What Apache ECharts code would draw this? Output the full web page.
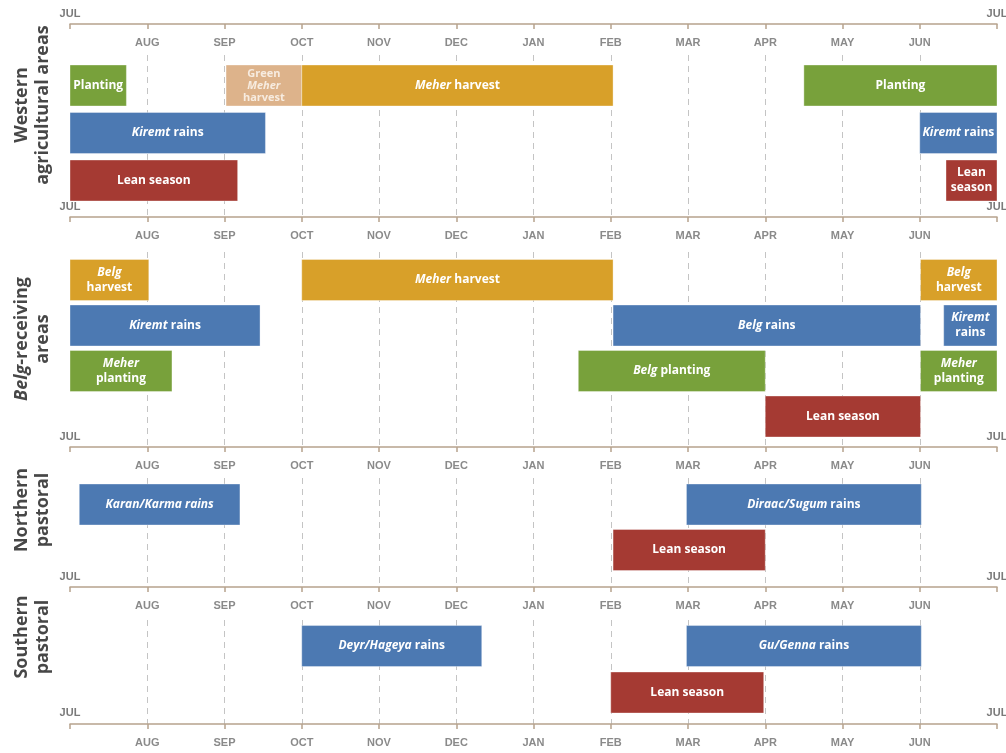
<!DOCTYPE html>
<html>
<head>
<meta charset="utf-8">
<script src="https://cdn.jsdelivr.net/npm/echarts@6/dist/echarts.min.js"></script>
<style>
html,body{margin:0;padding:0;background:#fff;}
#chart{width:1006px;height:753px;}
</style>
</head>
<body>
<div id="chart"></div>
<script>
// Month tick labels (0 = start of July, 12 = end of June)
const monthLabels = ['JUL','AUG','SEP','OCT','NOV','DEC','JAN','FEB','MAR','APR','MAY','JUN','JUL'];

// Panel (livelihood zone) names
const panelNames = [
  'Western\nagricultural areas',
  '{i|Belg}-receiving\nareas',
  'Northern\npastoral',
  'Southern\npastoral'
];

// Bars: [start month, end month, row, activity type, label]
const westernBars = [
  [0,     0.73, 0, 'planting', 'Planting'],
  [2.02,  3,    0, 'green',    'Green\n{i|Meher}\nharvest'],
  [3,     7.03, 0, 'harvest',  '{i|Meher} harvest'],
  [9.5,   12,   0, 'planting', 'Planting'],
  [0,     2.53, 1, 'rains',    '{i|Kiremt} rains'],
  [11,    12,   1, 'rains',    '{i|Kiremt} rains'],
  [0,     2.17, 2, 'lean',     'Lean season'],
  [11.34, 12,   2, 'lean',     'Lean\nseason']
];
const belgBars = [
  [0,     1.02, 0, 'harvest',  '{i|Belg}\nharvest'],
  [3,     7.03, 0, 'harvest',  '{i|Meher} harvest'],
  [11.01, 12,   0, 'harvest',  '{i|Belg}\nharvest'],
  [0,     2.46, 1, 'rains',    '{i|Kiremt} rains'],
  [7.03,  11.01,1, 'rains',    '{i|Belg} rains'],
  [11.31, 12,   1, 'rains',    '{i|Kiremt}\nrains'],
  [0,     1.32, 2, 'planting', '{i|Meher}\nplanting'],
  [6.58,  9.0,  2, 'planting', '{i|Belg} planting'],
  [11.01, 12,   2, 'planting', '{i|Meher}\nplanting'],
  [9.0,   11.01,3, 'lean',     'Lean season']
];
const northBars = [
  [0.12,  2.2,  0, 'rains',    '{i|Karan/Karma rains}'],
  [7.98,  11.02,0, 'rains',    '{i|Diraac/Sugum} rains'],
  [7.03,  9.0,  1, 'lean',     'Lean season']
];
const southBars = [
  [3,     5.33, 0, 'rains',    '{i|Deyr/Hageya} rains'],
  [7.98,  11.02,0, 'rains',    '{i|Gu/Genna} rains'],
  [7,     8.98, 1, 'lean',     'Lean season']
];
const panelBars = [westernBars, belgBars, northBars, southBars];

// ---- styling / layout ----
const typeColors = {
  planting: '#78a13b',
  green: '#ddb38b',
  harvest: '#d8a029',
  rains: '#4c79b2',
  lean: '#a53a33'
};
const FONT = '"Open Sans", "DejaVu Sans", sans-serif';
const AXIS_FONT = '"Liberation Sans", Arial, sans-serif';
const lineColor = '#b6a28d';
const grids = [
  {top: 55,  height: 162, offset: 31, ymin: -0.642, ymax: 2.768},
  {top: 252, height: 195, offset: 35, ymin: -0.615, ymax: 3.67},
  {top: 478, height: 109, offset: 31, ymin: -0.582, ymax: 1.813},
  {top: 620, height: 104, offset: 33, ymin: -0.56,  ymax: 1.677}
];
const sideY = [105, 339, 510, 637];

const xAxes = [];
const yAxes = [];
const series = [];
grids.forEach((g, i) => {
  xAxes.push({
    type: 'value', gridIndex: i, position: 'top', offset: g.offset,
    min: 0, max: 12, interval: 1,
    axisLine: {show: true, onZero: false, lineStyle: {color: lineColor, width: 1.5}},
    axisTick: {show: true, inside: true, length: 5, lineStyle: {color: lineColor, width: 1.5}},
    axisLabel: {
      inside: true, margin: 13, showMinLabel: true, showMaxLabel: true,
      color: '#8a8a8a', fontFamily: AXIS_FONT, fontWeight: 'bold', fontSize: 11,
      formatter: v => (v === 0 || v === 12) ? '' : monthLabels[v]
    },
    splitLine: {show: true, showMinLine: false, showMaxLine: false,
      lineStyle: {color: '#c4c4c4', width: 1, type: [6, 5]}}
  });
  xAxes.push({
    type: 'value', gridIndex: i, position: 'top', offset: g.offset,
    min: 0, max: 12, interval: 1,
    axisLine: {show: false, onZero: false}, axisTick: {show: false}, splitLine: {show: false},
    axisLabel: {
      inside: false, margin: 5, showMinLabel: true, showMaxLabel: true,
      color: '#7a7a7a', fontFamily: AXIS_FONT, fontWeight: 'bold', fontSize: 11,
      formatter: v => (v === 0 || v === 12) ? monthLabels[v] : ''
    }
  });
  yAxes.push({
    type: 'value', gridIndex: i, inverse: true, min: g.ymin, max: g.ymax, show: false
  });
});
// bottom axis of the last panel
xAxes.push({
  type: 'value', gridIndex: 3, position: 'bottom',
  min: 0, max: 12, interval: 1,
  axisLine: {show: true, onZero: false, lineStyle: {color: lineColor, width: 1.5}},
  axisTick: {show: true, inside: false, length: 5, lineStyle: {color: lineColor, width: 1.5}},
  axisLabel: {
    inside: false, margin: 13, showMinLabel: true, showMaxLabel: true,
    color: '#8a8a8a', fontFamily: AXIS_FONT, fontWeight: 'bold', fontSize: 11,
    formatter: v => (v === 0 || v === 12) ? '' : monthLabels[v]
  },
  splitLine: {show: false}
});
xAxes.push({
  type: 'value', gridIndex: 3, position: 'bottom',
  min: 0, max: 12, interval: 1,
  axisLine: {show: false, onZero: false}, axisTick: {show: false}, splitLine: {show: false},
  axisLabel: {
    inside: true, margin: 6, showMinLabel: true, showMaxLabel: true,
    color: '#7a7a7a', fontFamily: AXIS_FONT, fontWeight: 'bold', fontSize: 11,
    formatter: v => (v === 0 || v === 12) ? monthLabels[v] : ''
  }
});

panelBars.forEach((bars, i) => {
  series.push({
    type: 'custom',
    xAxisIndex: i * 2,
    yAxisIndex: i,
    encode: {x: [0, 1], y: 2},
    data: bars.map(b => [b[0], b[1], b[2]]),
    renderItem: function (params, api) {
      const b = bars[params.dataIndex];
      const s = api.coord([b[0], b[2]]);
      const e = api.coord([b[1], b[2]]);
      const h = 41;
      const lines = b[4].split('\n').length;
      const fs = lines >= 3 ? 11 : 12;
      const txt = b[3] === 'green' ? '#f7ece0' : '#ffffff';
      return {
        type: 'rect',
        shape: {x: s[0], y: s[1] - h / 2, width: e[0] - s[0], height: h},
        style: {fill: typeColors[b[3]], stroke: 'rgba(255,255,255,0.35)', lineWidth: 1},
        textContent: {
          style: {
            text: b[4],
            fill: txt,
            fontFamily: FONT, fontWeight: 'bold', fontSize: fs,
            lineHeight: lines >= 3 ? 12 : 15,
            align: 'center', verticalAlign: 'middle',
            rich: {
              i: {fill: txt, fontFamily: FONT,
                  fontWeight: 'bold', fontStyle: 'italic', fontSize: fs,
                  lineHeight: lines >= 3 ? 12 : 15}
            }
          }
        },
        textConfig: {position: 'inside'}
      };
    }
  });
});

const graphic = panelNames.map((t, i) => ({
  type: 'text',
  x: 32, y: sideY[i],
  rotation: Math.PI / 2,
  style: {
    text: t,
    fill: '#474747',
    fontFamily: FONT, fontWeight: 'bold', fontSize: 18, lineHeight: 21,
    align: 'center', verticalAlign: 'middle',
    rich: {
      i: {fill: '#474747', fontFamily: FONT, fontWeight: 'bold', fontStyle: 'italic',
          fontSize: 18, lineHeight: 21}
    }
  }
}));

const chart = echarts.init(document.getElementById('chart'));
chart.setOption({
  backgroundColor: '#ffffff',
  animation: false,
  grid: grids.map(g => ({left: 70, right: 9, top: g.top, height: g.height, outerBoundsMode: 'none', containLabel: false})),
  xAxis: xAxes,
  yAxis: yAxes,
  series: series,
  graphic: graphic
});
</script>
</body>
</html>
